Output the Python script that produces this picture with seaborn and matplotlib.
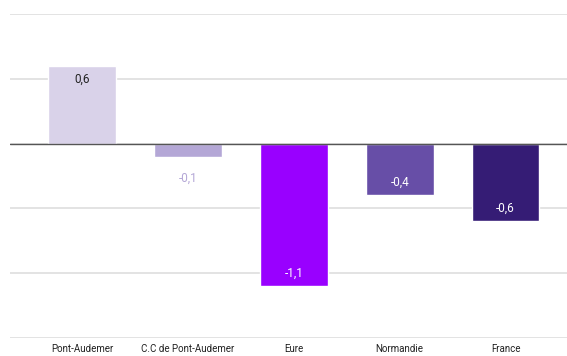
import pandas as pd
import numpy as np
import matplotlib
matplotlib.use("Agg")
import matplotlib.pyplot as plt
import seaborn as sns

# data
territoires = ["Pont-Audemer", "C.C de Pont-Audemer", "Eure", "Normandie", "France"]
valeurs = [0.6, -0.1, -1.1, -0.4, -0.6]
couleurs = ["#d9d2e9", "#b4a7d6", "#9900ff", "#674ea7", "#351c75"]
etiquettes = ["0,6", "-0,1", "-1,1", "-0,4", "-0,6"]
couleurs_texte = ["#222222", "#b4a7d6", "white", "white", "white"]

df = pd.DataFrame({"territoire": territoires, "valeur": valeurs})

sns.set_style("white")
plt.rcParams["font.family"] = ["Roboto", "DejaVu Sans"]

fig = plt.figure(figsize=(5.67, 3.56), dpi=100)
ax = fig.add_axes([0.0176, 0.0506, 0.9824, 0.9101])

sns.barplot(data=df, x="territoire", y="valeur", hue="territoire",
            palette=couleurs, saturation=1, legend=False, width=0.64,
            ax=ax, zorder=3)

ax.set_ylim(-1.5, 1.0)
ax.set_xlim(-0.68, 4.58)
ax.set_yticks(np.arange(-1.5, 1.01, 0.5))
ax.yaxis.grid(True, color="#e0e0e0", linewidth=1.3, zorder=0)
ax.axhline(0, color="#555555", linewidth=1.0, zorder=4)
ax.set_yticklabels([])
ax.tick_params(axis="y", length=0)
ax.tick_params(axis="x", length=0, labelsize=7, pad=4, colors="#222222")
ax.set_xlabel("")
ax.set_ylabel("")
for s in ax.spines.values():
    s.set_visible(False)

for i, v in enumerate(valeurs):
    if v > 0:
        y = v - 0.1
    elif i == 1:
        y = v - 0.17
    else:
        y = v + 0.1
    ax.text(i, y, etiquettes[i], ha="center", va="center",
            fontsize=8.5, color=couleurs_texte[i], zorder=5)

plt.savefig("out.png", dpi=100)
